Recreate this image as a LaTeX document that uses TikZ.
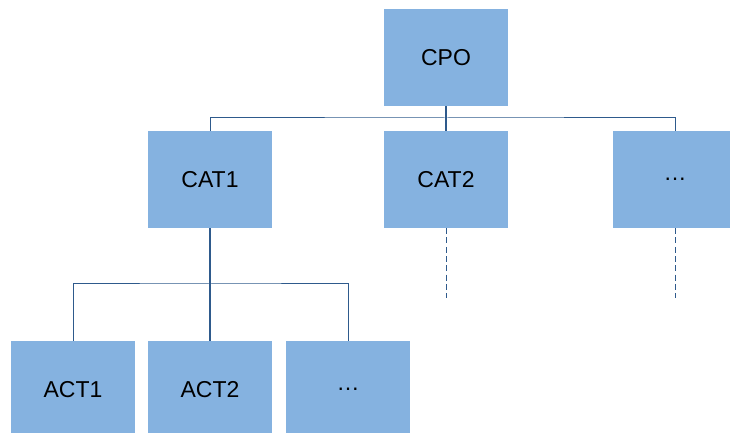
\documentclass[tikz,border=0pt]{standalone}
\usepackage{fontspec}
\setmainfont{Liberation Sans}
\definecolor{boxfill}{HTML}{85B2E0}
\definecolor{linkcol}{HTML}{2E5A8C}
\begin{document}
\begin{tikzpicture}[x=1pt,y=1pt,
  unit/.style={fill=boxfill, draw=none, minimum width=124pt, minimum height=97pt,
    inner sep=0pt, font=\fontsize{23}{27}\selectfont},
  trunk/.style={draw=linkcol, line width=1.6pt},
  branch/.style={draw=linkcol, line width=1pt},
  pending/.style={draw=linkcol, line width=1pt, dash pattern=on 6pt off 3.3pt}]
\useasboundingbox (0,0) rectangle (730,433);
\clip (0,0) rectangle (730,433);

% tree nodes
\node[unit] (cpo)  at (446,375.5) {CPO};
\node[unit] (cat1) at (210,253.5) {CAT1};
\node[unit] (cat2) at (446,253.5) {CAT2};
\node[unit] (catx) at (675,253.5) {\dots};
\node[unit] (act1) at (73,43.5)  {ACT1};
\node[unit] (act2) at (210,43.5) {ACT2};
\node[unit] (actx) at (348,43.5) {\dots};

% bus heights and open ends
\coordinate (busA) at (446,315);
\coordinate (busB) at (210,149);
\coordinate (cat2end) at (446,135);
\coordinate (catxend) at (675,135);

% top level
\draw[branch] (cat1.north) |- (busA) -| (catx.north);
\draw[trunk] (cpo.south) -- (cat2.north);

% second level
\draw[branch] (act1.north) |- (busB) -| (actx.north);
\draw[trunk] (cat1.south) -- (act2.north);

% unexpanded branches
\draw[pending] (cat2.south) -- (cat2end);
\draw[pending] (catx.south) -- (catxend);
\end{tikzpicture}
\end{document}
